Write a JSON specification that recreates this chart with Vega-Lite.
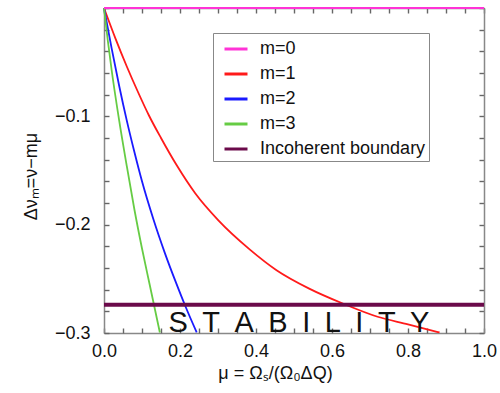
{
  "$schema": "https://vega.github.io/schema/vega-lite/v6.json",
  "width": 380,
  "height": 325,
  "autosize": "none",
  "padding": {"left": 104, "top": 8, "right": 16, "bottom": 60},
  "config": {
    "font": "Liberation Sans",
    "view": {"stroke": null},
    "axis": {
      "grid": false,
      "domainColor": "#888888",
      "domainWidth": 1.5,
      "tickColor": "#666666",
      "tickWidth": 1.4,
      "tickSize": 5,
      "labelColor": "#111111",
      "labelFontSize": 18,
      "titleColor": "#111111",
      "titleFontSize": 17,
      "titleFontWeight": "normal",
      "labelFlush": false,
      "labelOverlap": false
    }
  },
  "datasets": {
    "curves": [
      {"s": "m=0", "x": 0, "y": 0},
      {"s": "m=0", "x": 1, "y": 0},
      {"s": "m=1", "x": 0, "y": 0},
      {"s": "m=1", "x": 0.03, "y": -0.028},
      {"s": "m=1", "x": 0.06, "y": -0.054},
      {"s": "m=1", "x": 0.09, "y": -0.078},
      {"s": "m=1", "x": 0.118, "y": -0.099},
      {"s": "m=1", "x": 0.15, "y": -0.12},
      {"s": "m=1", "x": 0.191, "y": -0.145},
      {"s": "m=1", "x": 0.24, "y": -0.171},
      {"s": "m=1", "x": 0.301, "y": -0.196},
      {"s": "m=1", "x": 0.384, "y": -0.223},
      {"s": "m=1", "x": 0.454, "y": -0.242},
      {"s": "m=1", "x": 0.54, "y": -0.259},
      {"s": "m=1", "x": 0.63, "y": -0.273},
      {"s": "m=1", "x": 0.72, "y": -0.285},
      {"s": "m=1", "x": 0.8, "y": -0.292},
      {"s": "m=1", "x": 0.883, "y": -0.2995},
      {"s": "m=2", "x": 0, "y": 0},
      {"s": "m=2", "x": 0.02, "y": -0.037},
      {"s": "m=2", "x": 0.04, "y": -0.072},
      {"s": "m=2", "x": 0.06, "y": -0.104},
      {"s": "m=2", "x": 0.08, "y": -0.133},
      {"s": "m=2", "x": 0.1, "y": -0.16},
      {"s": "m=2", "x": 0.13, "y": -0.195},
      {"s": "m=2", "x": 0.16, "y": -0.226},
      {"s": "m=2", "x": 0.19, "y": -0.254},
      {"s": "m=2", "x": 0.215, "y": -0.276},
      {"s": "m=2", "x": 0.244, "y": -0.2995},
      {"s": "m=3", "x": 0, "y": 0},
      {"s": "m=3", "x": 0.01, "y": -0.03},
      {"s": "m=3", "x": 0.02, "y": -0.057},
      {"s": "m=3", "x": 0.04, "y": -0.104},
      {"s": "m=3", "x": 0.06, "y": -0.146},
      {"s": "m=3", "x": 0.08, "y": -0.186},
      {"s": "m=3", "x": 0.1, "y": -0.222},
      {"s": "m=3", "x": 0.12, "y": -0.255},
      {"s": "m=3", "x": 0.147, "y": -0.2995},
      {"s": "Incoherent boundary", "x": 0, "y": -0.274},
      {"s": "Incoherent boundary", "x": 1, "y": -0.274}
    ],
    "label": [
      {"x": 0.513, "y": -0.299, "t": "S\u2002T\u2002A\u2002B\u2002I\u2002L\u2002I\u2002T\u2002Y"}
    ]
  },
  "resolve": {"axis": {"x": "independent", "y": "independent"}},
  "layer": [
    {
      "data": {"name": "curves"},
      "mark": {"type": "line", "strokeWidth": 1.8, "clip": false, "interpolate": "monotone"},
      "encoding": {
        "x": {
          "field": "x", "type": "quantitative",
          "scale": {"domain": [0, 1], "nice": false, "zero": false},
          "axis": {
            "orient": "bottom",
            "values": [0, 0.2, 0.4, 0.6, 0.8, 1],
            "format": ".1f",
            "ticks": false,
            "labelPadding": 9,
            "title": "μ = Ωₛ/(Ω₀ΔQ)",
            "titleX": 171,
            "titleY": 45,
            "titleAlign": "center",
            "titleBaseline": "alphabetic",
            "titleFontSize": 18
          }
        },
        "y": {
          "field": "y", "type": "quantitative",
          "scale": {"domain": [-0.3, 0], "nice": false, "zero": false},
          "axis": {
            "orient": "left",
            "values": [-0.3, -0.2, -0.1],
            "format": ".1f",
            "ticks": false,
            "labelPadding": 14,
            "title": "Δνₘ=ν−mμ",
            "titleX": -73,
            "titleY": 168,
            "titleAngle": 270,
            "titleAlign": "center",
            "titleBaseline": "middle",
            "titleFontSize": 18
          }
        },
        "color": {
          "field": "s", "type": "nominal",
          "scale": {
            "domain": ["m=0", "m=1", "m=2", "m=3", "Incoherent boundary"],
            "range": ["#ff33d6", "#ff1a1a", "#1a1aff", "#66cc44", "#6b0a4a"]
          },
          "legend": {
            "orient": "none",
            "legendX": 109,
            "legendY": 25,
            "title": null,
            "symbolType": "stroke",
            "symbolSize": 529,
            "symbolStrokeWidth": 3,
            "symbolOffset": 7,
            "labelFontSize": 18,
            "labelColor": "#111111",
            "labelOffset": 11,
            "labelLimit": 400,
            "padding": 3,
            "rowPadding": 3,
            "strokeColor": "#888888"
          }
        }
      }
    },
    {
      "data": {"name": "curves"},
      "transform": [{"filter": "datum.s == 'Incoherent boundary'"}],
      "mark": {"type": "line", "strokeWidth": 4, "color": "#6b0a4a", "clip": false},
      "encoding": {
        "x": {
          "field": "x", "type": "quantitative",
          "axis": {
            "orient": "top",
            "offset": -325,
            "values": [0, 0.05, 0.1, 0.15, 0.2, 0.25, 0.3, 0.35, 0.4, 0.45, 0.5, 0.55, 0.6, 0.65, 0.7, 0.75, 0.8, 0.85, 0.9, 0.95, 1],
            "labels": false,
            "ticks": true,
            "domain": false,
            "title": null
          }
        },
        "y": {
          "field": "y", "type": "quantitative",
          "axis": {
            "orient": "right",
            "offset": -380,
            "values": [-0.3, -0.28, -0.26, -0.24, -0.22, -0.2, -0.18, -0.16, -0.14, -0.12, -0.1, -0.08, -0.06, -0.04, -0.02, 0],
            "labels": false,
            "ticks": true,
            "domain": false,
            "title": null
          }
        }
      }
    },
    {
      "data": {"name": "curves"},
      "transform": [{"filter": "datum.s == 'm=0'"}],
      "mark": {"type": "line", "strokeWidth": 2, "color": "#ff33d6", "clip": false},
      "encoding": {
        "x": {
          "field": "x", "type": "quantitative",
          "axis": {
            "orient": "bottom",
            "offset": -325,
            "values": [0, 0.05, 0.1, 0.15, 0.2, 0.25, 0.3, 0.35, 0.4, 0.45, 0.5, 0.55, 0.6, 0.65, 0.7, 0.75, 0.8, 0.85, 0.9, 0.95, 1],
            "labels": false,
            "ticks": true,
            "title": null
          }
        },
        "y": {
          "field": "y", "type": "quantitative",
          "axis": {
            "orient": "left",
            "offset": -380,
            "values": [-0.3, -0.28, -0.26, -0.24, -0.22, -0.2, -0.18, -0.16, -0.14, -0.12, -0.1, -0.08, -0.06, -0.04, -0.02, 0],
            "labels": false,
            "ticks": true,
            "title": null
          }
        }
      }
    },
    {
      "data": {"name": "label"},
      "mark": {"type": "text", "fontSize": 29, "color": "#111111", "align": "center", "baseline": "alphabetic"},
      "encoding": {
        "x": {"field": "x", "type": "quantitative", "axis": null},
        "y": {"field": "y", "type": "quantitative", "axis": null},
        "text": {"field": "t"}
      }
    }
  ]
}
